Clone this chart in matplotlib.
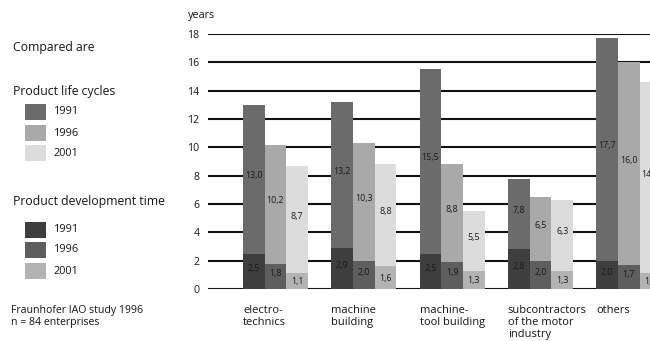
import matplotlib
matplotlib.use("Agg")
import matplotlib.pyplot as plt
from matplotlib.patches import Rectangle
import numpy as np

plt.rcParams['font.family'] = ['Open Sans', 'DejaVu Sans']

# Industry branches
categories = ["electro-\ntechnics", "machine\nbuilding", "machine-\ntool building",
              "subcontractors\nof the motor\nindustry", "others"]

# Product life cycles (years)
life_1991 = [13.0, 13.2, 15.5, 7.8, 17.7]
life_1996 = [10.2, 10.3, 8.8, 6.5, 16.0]
life_2001 = [8.7, 8.8, 5.5, 6.3, 14.6]

# Product development time (years)
dev_1991 = [2.5, 2.9, 2.5, 2.8, 2.0]
dev_1996 = [1.8, 2.0, 1.9, 2.0, 1.7]
dev_2001 = [1.1, 1.6, 1.3, 1.3, 1.1]

years = ["1991", "1996", "2001"]
yticks = [0, 2, 4, 6, 8, 10, 12, 14, 16, 18]

life_colors = ["#6b6b6b", "#a9a9a9", "#dcdcdc"]
dev_colors = ["#3e3e3e", "#5e5e5e", "#b3b3b3"]
ink = "#161616"

W, H = 650, 341
fig = plt.figure(figsize=(W / 100, H / 100), dpi=100)

# plot area in pixel coordinates
ax_left, ax_right, ax_top, ax_bottom = 208, 650, 34, 289
ax = fig.add_axes([ax_left / W, 1 - ax_bottom / H,
                   (ax_right - ax_left) / W, (ax_bottom - ax_top) / H])
ax.set_xlim(-0.764, 4.241)
ax.set_ylim(0, 18)
for s in ax.spines.values():
    s.set_visible(False)
ax.set_xticks([])
ax.set_yticks(yticks)
ax.tick_params(axis='y', length=0, pad=6, labelsize=7.6, labelcolor=ink)
ax.set_yticklabels([str(t) for t in yticks])
for t in yticks:
    ax.axhline(t, color="#111111", lw=1.5, zorder=1)

bw = 0.246
x = np.arange(len(categories))
life = [life_1991, life_1996, life_2001]
dev = [dev_1991, dev_1996, dev_2001]
for k in range(3):
    xs = x + (k - 1) * bw
    ax.bar(xs, life[k], width=bw, color=life_colors[k], zorder=2, linewidth=0)
    ax.bar(xs, dev[k], width=bw, color=dev_colors[k], zorder=3, linewidth=0)
    for xi, lv, dv in zip(xs, life[k], dev[k]):
        ax.text(xi, (lv + dv) / 2 + 0.25, f"{lv:.1f}".replace(".", ","),
                ha="center", va="center", fontsize=6.4, color="#1a1a1a", zorder=4,
                clip_on=False)
        ax.text(xi, dv / 2 + (0.2 if k < 2 else -0.05), f"{dv:.1f}".replace(".", ","),
                ha="center", va="center", fontsize=6.4, color="#1a1a1a", zorder=4,
                clip_on=False)

# category labels, left aligned under each group
for xi, lab in zip(x, categories):
    ax.text(xi - 1.5 * bw, -1.15, lab, ha="left", va="top", fontsize=8.0,
            color=ink, linespacing=1.08, clip_on=False)

ax.text(-0.764 - 20 / 88.3, 19.3, "years", ha="left", va="center",
        fontsize=7.8, color=ink, clip_on=False)

# left-hand key
def ftext(px, py, s, size=8.8, **kw):
    fig.text(px / W, 1 - py / H, s, fontsize=size, color=ink,
             va="center", ha="left", **kw)

ftext(13, 48, "Compared are")
ftext(13, 91, "Product life cycles")
ftext(13, 202, "Product development time")

life_rows = [112, 133, 153]
dev_rows = [230, 250, 271]
for rows, cols in ((life_rows, life_colors), (dev_rows, dev_colors)):
    for yy, c, lab in zip(rows, cols, years):
        fig.patches.append(Rectangle((25 / W, 1 - (yy + 8) / H), 21 / W, 16 / H,
                                     transform=fig.transFigure, facecolor=c,
                                     edgecolor="none"))
        ftext(54, yy, lab, size=7.8)

ftext(11, 311, "Fraunhofer IAO study 1996", size=7.6)
ftext(11, 322, "n = 84 enterprises", size=7.6)

fig.savefig("out.png", dpi=100, facecolor="white")
